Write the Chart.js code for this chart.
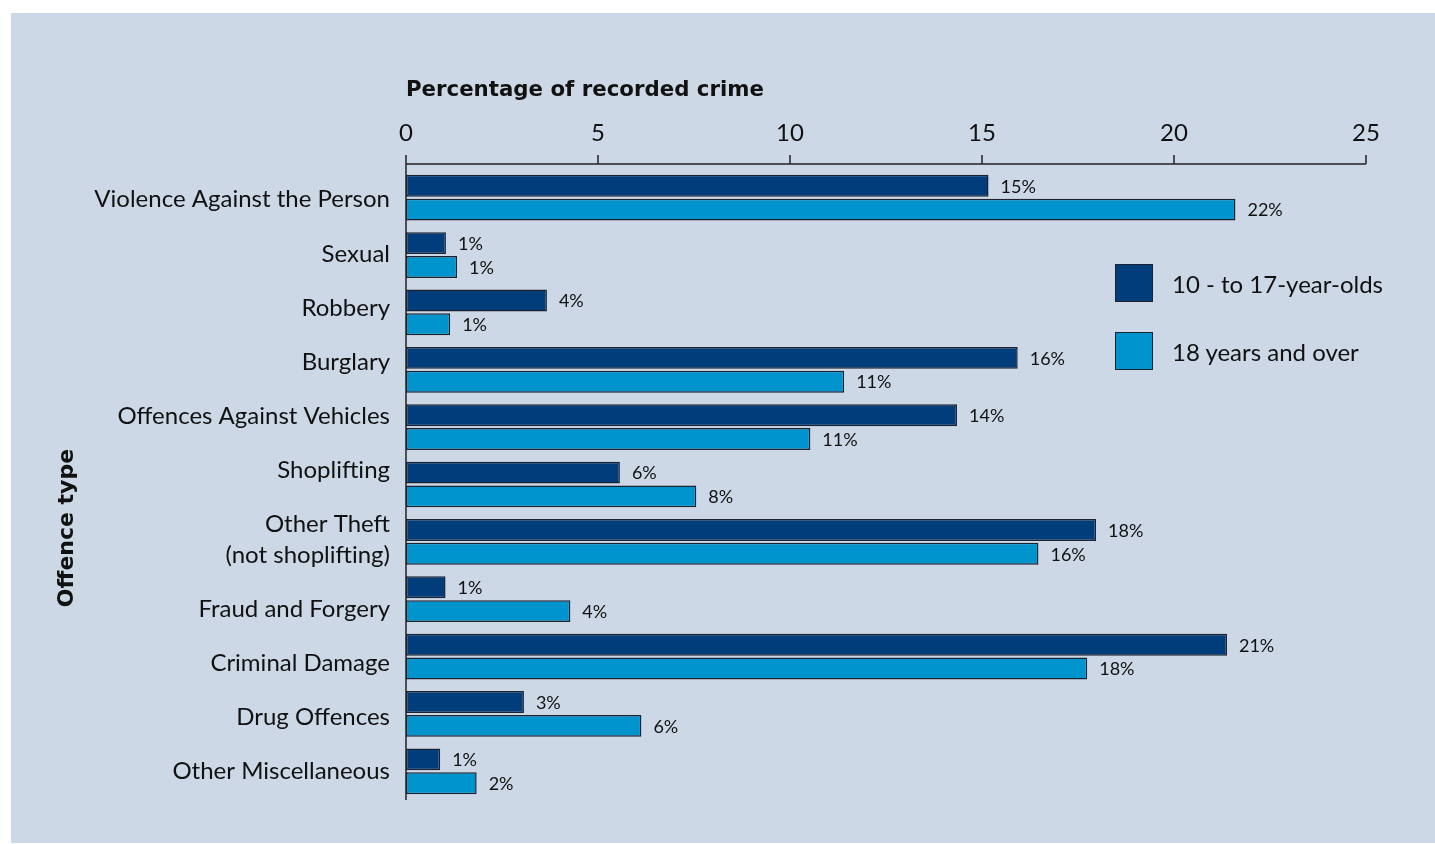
<!DOCTYPE html>
<html>
<head>
<meta charset="utf-8">
<script src="https://cdn.jsdelivr.net/npm/chart.js@4"></script>
<style>
    html, body { margin: 0; padding: 0; background: #ffffff; }
    #panel {
        position: absolute; left: 11px; top: 13px;
        width: 1424px; height: 830px;
        background: #ccd8e6;
    }
    #wrap { position: absolute; left: 0; top: 0; width: 1435px; height: 844px; }
    #legend {
        position: absolute; left: 1115px; top: 264px;
        font-family: Lato, "Open Sans", sans-serif; font-size: 24px; color: #111;
    }
    .item { display: flex; align-items: center; height: 38px; margin-bottom: 30px; }
    .swatch { width: 36px; height: 36px; border: 1px solid #1c2230; margin-right: 19px; }
</style>
</head>
<body>
<div id="panel"></div>
<div id="wrap"><canvas id="crimeChart" width="1435" height="844"></canvas></div>
<div id="legend"></div>

<script>
const categories = [
    "Violence Against the Person",
    "Sexual",
    "Robbery",
    "Burglary",
    "Offences Against Vehicles",
    "Shoplifting",
    ["Other Theft", "(not shoplifting)"],
    "Fraud and Forgery",
    "Criminal Damage",
    "Drug Offences",
    "Other Miscellaneous"
];

const seriesNames = ["10 - to 17-year-olds", "18 years and over"];
const seriesColors = ["#023d7b", "#0094cf"];

const youngOffenders = [15.17, 1.04, 3.67, 15.93, 14.35, 5.57, 17.97, 1.03, 21.38, 3.07, 0.89];
const adultOffenders = [21.6, 1.33, 1.15, 11.41, 10.53, 7.56, 16.47, 4.28, 17.74, 6.13, 1.84];

const xTicks = [0, 5, 10, 15, 20, 25];

const FONT = "Lato, 'Open Sans', sans-serif";
const BOLD_FONT = "'DejaVu Sans', sans-serif";
const INK = "#111111";

// top axis sits a few px above the first bar group
const AXIS_GAP = 5;

// category names are set as a text column centred on the axis,
// one row per name, wrapped names use a tighter line pitch
const ROW_PITCH = 54.1;
const WRAP_PITCH = 30.5;

const axisLines = {
    id: "axisLines",
    afterDraw(chart) {
        const ctx = chart.ctx;
        const area = chart.chartArea;
        const x = chart.scales.x;
        const yTop = area.top - AXIS_GAP;
        ctx.save();
        ctx.strokeStyle = "#222222";
        ctx.lineWidth = 1.5;
        ctx.beginPath();
        ctx.moveTo(x.getPixelForValue(0), yTop);
        ctx.lineTo(x.getPixelForValue(25), yTop);
        xTicks.forEach(t => {
            const px = x.getPixelForValue(t);
            ctx.moveTo(px, yTop);
            ctx.lineTo(px, yTop - 9);
        });
        ctx.moveTo(area.left, yTop);
        ctx.lineTo(area.left, area.bottom);
        ctx.stroke();

        // rotated y axis title
        ctx.fillStyle = INK;
        ctx.font = "bold 22px " + BOLD_FONT;
        ctx.textAlign = "center";
        ctx.textBaseline = "middle";
        ctx.translate(67, 528);
        ctx.rotate(-Math.PI / 2);
        ctx.fillText("Offence type", 0, 0);
        ctx.restore();
    }
};

const categoryColumn = {
    id: "categoryColumn",
    afterDraw(chart) {
        const ctx = chart.ctx;
        const area = chart.chartArea;
        const labels = chart.data.labels;
        let span = 0;
        labels.forEach((lab, i) => {
            const lines = Array.isArray(lab) ? lab.length : 1;
            span += (lines - 1) * WRAP_PITCH;
            if (i > 0) span += ROW_PITCH;
        });
        let y = (area.top + area.bottom) / 2 - span / 2 + 1;
        ctx.save();
        ctx.fillStyle = INK;
        ctx.font = "24px " + FONT;
        ctx.textAlign = "right";
        ctx.textBaseline = "middle";
        labels.forEach((lab, i) => {
            const lines = Array.isArray(lab) ? lab : [lab];
            lines.forEach((line, k) => {
                if (k > 0) y += WRAP_PITCH;
                ctx.fillText(line, area.left - 16, y);
            });
            y += ROW_PITCH;
        });
        ctx.restore();
    }
};

const valueLabels = {
    id: "valueLabels",
    afterDatasetsDraw(chart) {
        const ctx = chart.ctx;
        ctx.save();
        ctx.fillStyle = INK;
        ctx.font = "18px " + FONT;
        ctx.textAlign = "left";
        ctx.textBaseline = "middle";
        chart.data.datasets.forEach((ds, i) => {
            chart.getDatasetMeta(i).data.forEach((bar, j) => {
                ctx.fillText(Math.round(ds.data[j]) + "%", bar.x + 12, bar.y + 1);
            });
        });
        ctx.restore();
    }
};

new Chart(document.getElementById("crimeChart"), {
    type: "bar",
    data: {
        labels: categories,
        datasets: [
            {
                label: seriesNames[0],
                data: youngOffenders,
                backgroundColor: seriesColors[0],
                borderColor: "#1c2230",
                borderWidth: 1.5,
                borderSkipped: false,
                barPercentage: 0.92,
                categoryPercentage: 0.83
            },
            {
                label: seriesNames[1],
                data: adultOffenders,
                backgroundColor: seriesColors[1],
                borderColor: "#1c2230",
                borderWidth: 1.5,
                borderSkipped: false,
                barPercentage: 0.92,
                categoryPercentage: 0.83
            }
        ]
    },
    options: {
        indexAxis: "y",
        responsive: false,
        animation: false,
        layout: {
            padding: { top: 0, left: 0, right: 69, bottom: 44 }
        },
        plugins: {
            legend: { display: false },
            tooltip: { enabled: false }
        },
        scales: {
            x: {
                position: "top",
                min: 0,
                max: 25,
                afterFit: scale => { scale.height = 169; },
                afterBuildTicks: scale => {
                    scale.ticks = xTicks.map(v => ({ value: v }));
                },
                grid: { display: false, drawTicks: false },
                border: { display: false },
                ticks: {
                    color: INK,
                    font: { family: FONT, size: 24 },
                    padding: 21
                },
                title: {
                    display: true,
                    align: "start",
                    text: "Percentage of recorded crime",
                    color: INK,
                    font: { family: BOLD_FONT, size: 21.3, weight: "bold" },
                    padding: { top: 78, bottom: 0 }
                }
            },
            y: {
                afterFit: scale => { scale.width = 406; },
                grid: { display: false, drawTicks: false },
                border: { display: false },
                ticks: { display: false }
            }
        }
    },
    plugins: [axisLines, categoryColumn, valueLabels]
});

// legend built from the same series arrays
const legend = document.getElementById("legend");
seriesNames.forEach((name, i) => {
    const item = document.createElement("div");
    item.className = "item";
    const sw = document.createElement("div");
    sw.className = "swatch";
    sw.style.background = seriesColors[i];
    const txt = document.createElement("span");
    txt.textContent = name;
    item.appendChild(sw);
    item.appendChild(txt);
    legend.appendChild(item);
});
</script>
</body>
</html>
